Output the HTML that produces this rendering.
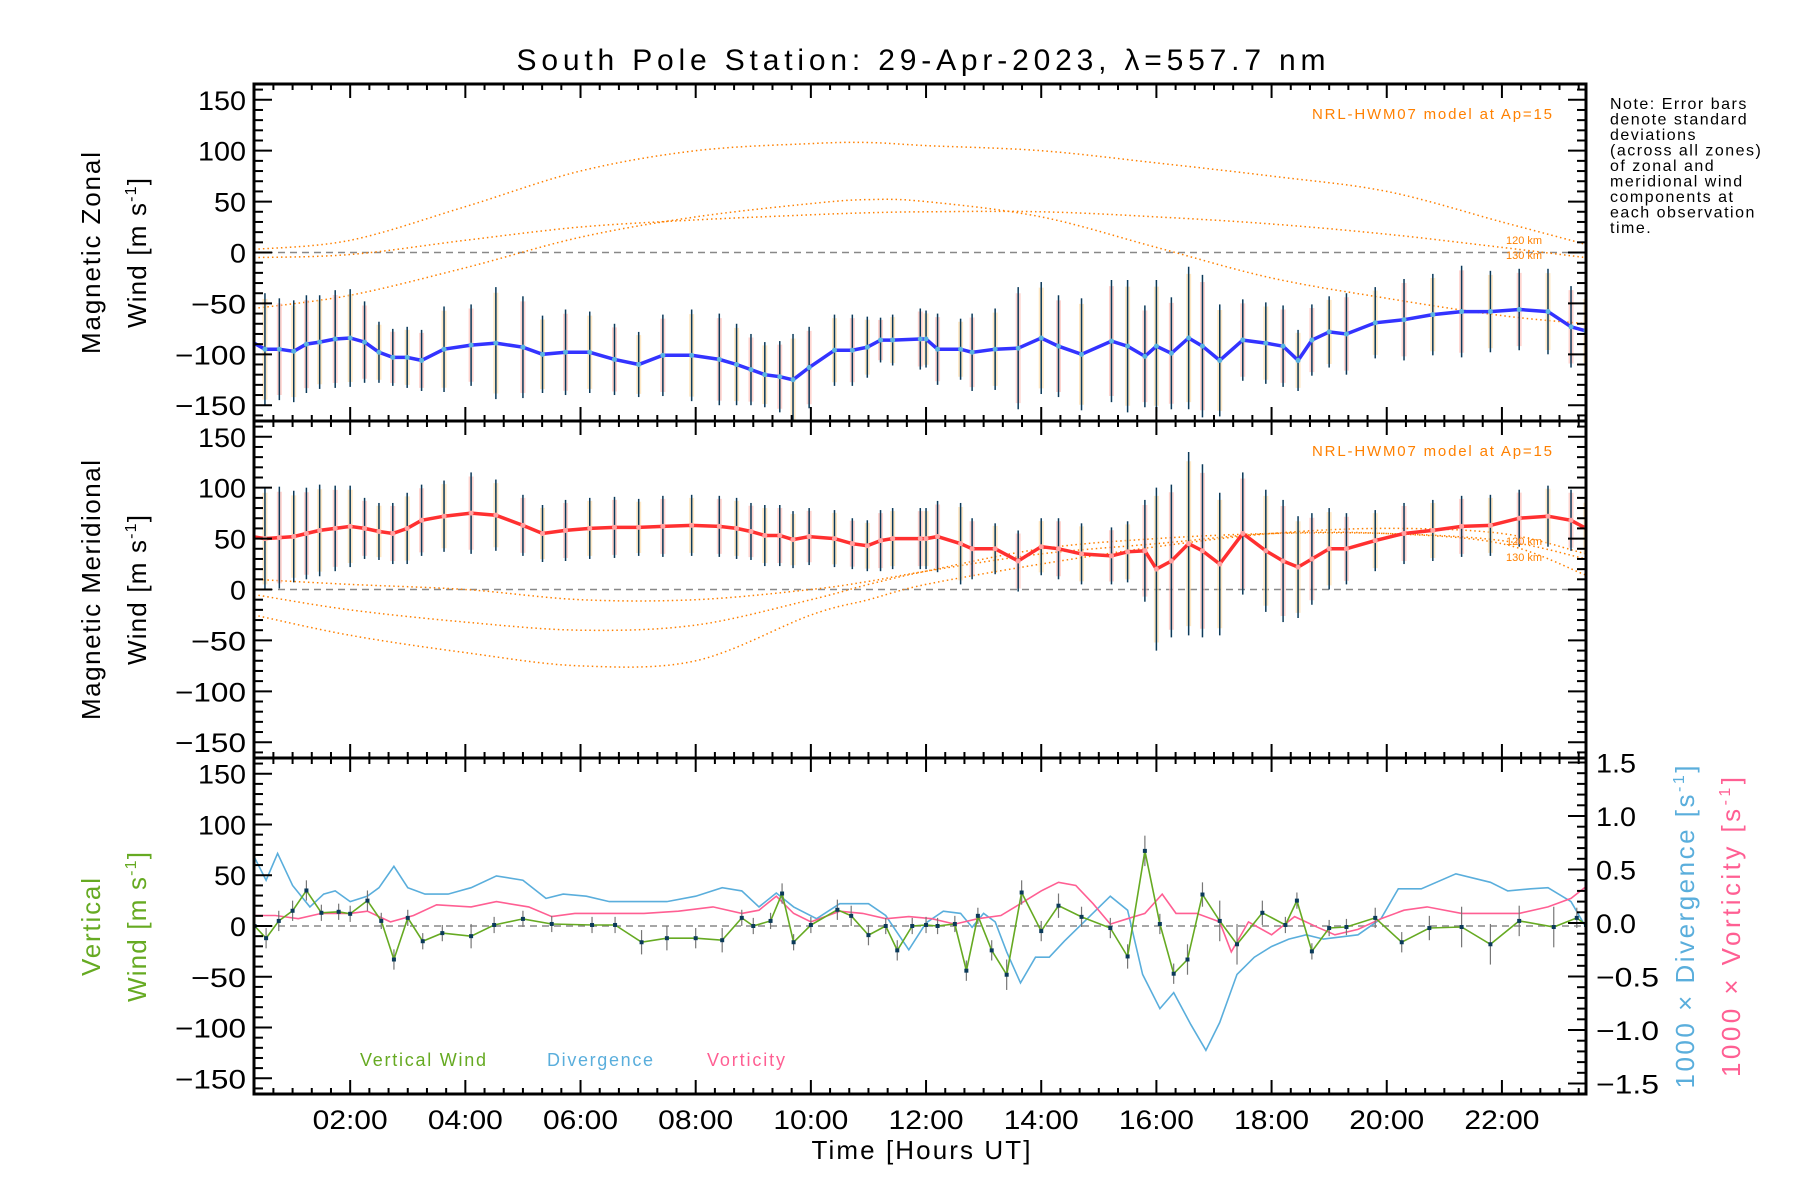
<!DOCTYPE html>
<html><head><meta charset="utf-8"><style>
html,body{margin:0;padding:0;background:#fff;}
svg{display:block;font-family:"Liberation Sans",sans-serif;}
</style></head><body>
<svg id="chart" width="1800" height="1200" viewBox="0 0 1800 1200" xmlns="http://www.w3.org/2000/svg">
<text x="921" y="70" font-size="30" text-anchor="middle" textLength="809" lengthAdjust="spacing">South Pole Station: 29-Apr-2023, λ=557.7 nm</text>
<g id="g1"></g>
<g id="g2"></g>
<g id="g3"></g>
<g id="axes"></g>
<text transform="translate(100,253) rotate(-90)" font-size="26" text-anchor="middle" textLength="202" lengthAdjust="spacing">Magnetic Zonal</text>
<text transform="translate(146,253) rotate(-90)" font-size="26" text-anchor="middle" textLength="150" lengthAdjust="spacing">Wind [m s<tspan font-size="16" dy="-10">-1</tspan><tspan dy="10">]</tspan></text>
<text transform="translate(100,590) rotate(-90)" font-size="26" text-anchor="middle" textLength="260" lengthAdjust="spacing">Magnetic Meridional</text>
<text transform="translate(146,590) rotate(-90)" font-size="26" text-anchor="middle" textLength="150" lengthAdjust="spacing">Wind [m s<tspan font-size="16" dy="-10">-1</tspan><tspan dy="10">]</tspan></text>
<text transform="translate(100,927) rotate(-90)" font-size="26" fill="#66aa22" text-anchor="middle" textLength="98" lengthAdjust="spacing">Vertical</text>
<text transform="translate(146,927) rotate(-90)" font-size="26" fill="#66aa22" text-anchor="middle" textLength="150" lengthAdjust="spacing">Wind [m s<tspan font-size="16" dy="-10">-1</tspan><tspan dy="10">]</tspan></text>
<text transform="translate(1694,927) rotate(-90)" font-size="26" fill="#5aaedc" text-anchor="middle" textLength="323" lengthAdjust="spacing">1000 × Divergence [s<tspan font-size="16" dy="-10">-1</tspan><tspan dy="10">]</tspan></text>
<text transform="translate(1740,927) rotate(-90)" font-size="26" fill="#ff5f93" text-anchor="middle" textLength="300" lengthAdjust="spacing">1000 × Vorticity [s<tspan font-size="16" dy="-10">-1</tspan><tspan dy="10">]</tspan></text>
<text x="921" y="1159" font-size="26" text-anchor="middle" textLength="219" lengthAdjust="spacing">Time [Hours UT]</text>
<text x="1552" y="119" font-size="15" fill="#ff8000" text-anchor="end" textLength="240" lengthAdjust="spacing">NRL-HWM07 model at Ap=15</text>
<text x="1552" y="456" font-size="15" fill="#ff8000" text-anchor="end" textLength="240" lengthAdjust="spacing">NRL-HWM07 model at Ap=15</text>
<text x="1506" y="244" font-size="11" fill="#ff8000">120 km</text>
<text x="1506" y="259" font-size="11" fill="#ff8000">130 km</text>
<text x="1506" y="545" font-size="11" fill="#ff8000">120 km</text>
<text x="1506" y="561" font-size="11" fill="#ff8000">130 km</text>
<text font-size="16" letter-spacing="1.5" x="1610">
<tspan x="1610" y="109">Note: Error bars</tspan><tspan x="1610" y="124.5">denote standard</tspan><tspan x="1610" y="140">deviations</tspan><tspan x="1610" y="155.5">(across all zones)</tspan><tspan x="1610" y="171">of zonal and</tspan><tspan x="1610" y="186.5">meridional wind</tspan><tspan x="1610" y="202">components at</tspan><tspan x="1610" y="217.5">each observation</tspan><tspan x="1610" y="233">time.</tspan></text>
<text x="360" y="1066" font-size="18" fill="#66aa22" textLength="126" lengthAdjust="spacing">Vertical Wind</text>
<text x="547" y="1066" font-size="18" fill="#5aaedc" textLength="106" lengthAdjust="spacing">Divergence</text>
<text x="707" y="1066" font-size="18" fill="#ff5f93" textLength="78" lengthAdjust="spacing">Vorticity</text>
</svg>
<script>
const obsTimes=[0.30,0.52,0.77,1.02,1.24,1.47,1.74,2.0,2.25,2.5,2.74,2.99,3.24,3.63,4.10,4.53,5.0,5.34,5.74,6.16,6.59,7.01,7.43,7.93,8.41,8.71,8.96,9.2,9.46,9.69,9.97,10.41,10.72,10.98,11.21,11.42,11.9,12.0,12.2,12.6,12.8,13.2,13.6,14.0,14.3,14.7,15.22,15.5,15.8,16.0,16.26,16.56,16.8,17.1,17.5,17.9,18.2,18.46,18.7,19.0,19.3,19.8,20.3,20.8,21.3,21.8,22.3,22.8,23.2,23.46];
const zonal=[-88,-95,-95,-97,-90,-88,-85,-84,-88,-98,-103,-103,-106,-95,-91,-89,-93,-100,-98,-98,-105,-110,-101,-101,-105,-110,-115,-120,-122,-125,-113,-96,-96,-93,-86,-86,-85,-85,-95,-95,-98,-95,-94,-84,-92,-100,-87,-92,-102,-92,-99,-84,-92,-106,-86,-89,-92,-106,-86,-78,-80,-69,-66,-61,-58,-58,-56,-58,-73,-77];
const zonalErr=[60,55,50,50,48,46,48,48,40,30,28,30,30,42,40,55,50,38,42,40,35,32,40,45,45,40,35,32,35,45,40,35,35,30,22,25,30,28,35,30,38,40,60,55,50,55,60,65,50,65,55,70,70,55,40,40,40,30,35,35,40,35,40,40,45,40,40,42,40,35];
const meridional=[52,50,51,52,55,58,60,62,60,57,55,60,68,72,75,73,63,55,58,60,61,61,62,63,62,60,57,53,53,49,52,50,45,43,48,50,50,50,52,45,40,40,28,42,40,35,33,37,38,20,28,45,38,25,55,38,28,22,30,40,40,48,55,58,62,63,70,72,68,60];
const meridionalErr=[55,50,50,45,45,45,42,40,30,28,30,35,35,35,40,35,30,28,30,30,30,28,30,30,30,30,28,30,30,28,28,28,25,25,30,30,30,30,35,40,30,25,30,28,30,30,28,30,50,80,75,90,85,70,60,60,60,50,45,40,35,30,30,30,30,30,28,30,30,28];
const modelTimes=[0.33,2,4,6,8,10,11,12,14,16,18,20,22,23.46];
const zonalModelA=[3,12,45,80,100,107,108,105,100,88,75,60,30,8];
const zonalModelB=[-5,-2,12,25,32,37,39,40,40,35,28,18,5,-5];
const zonalModelC=[-55,-42,-15,15,35,48,52,50,35,5,-25,-45,-62,-70];
const merModelD=[-5,-20,-32,-40,-35,-10,5,18,40,50,55,55,48,30];
const merModelE=[-25,-45,-62,-75,-70,-25,-10,5,25,42,55,60,55,35];
const merModelF=[10,5,0,-10,-10,0,8,18,35,45,55,55,45,14];
const vertTimes=[0.34,0.54,0.76,1.0,1.24,1.5,1.8,2.0,2.3,2.54,2.76,3.0,3.26,3.6,4.1,4.5,5.0,5.5,6.2,6.6,7.06,7.5,8.0,8.46,8.8,9.0,9.3,9.5,9.7,10.0,10.46,10.7,11.0,11.3,11.5,11.76,12.0,12.2,12.5,12.7,12.9,13.14,13.4,13.66,14.0,14.3,14.7,15.2,15.5,15.8,16.06,16.3,16.54,16.8,17.1,17.4,17.84,18.24,18.44,18.7,19.0,19.3,19.8,20.26,20.74,21.3,21.8,22.3,22.9,23.3,23.46];
const vertWind=[0,-12,5,15,35,13,14,12,25,5,-33,8,-15,-7,-10,1,7,2,1,1,-16,-12,-12,-14,8,0,5,32,-16,1,16,10,-9,0,-24,0,1,0,2,-44,10,-24,-48,33,-5,20,9,-2,-30,74,2,-47,-33,31,5,-18,13,1,25,-25,-2,-1,8,-16,-2,-1,-18,5,-1,8,1];
const vertErr=[12,10,10,10,10,8,8,8,10,8,10,8,8,8,12,8,8,8,8,8,12,12,10,12,8,8,8,10,8,8,10,10,10,8,10,8,8,8,8,10,8,10,15,12,10,12,10,10,12,15,10,10,15,12,20,20,12,8,8,8,8,8,10,10,12,20,20,15,20,10,8];
const divTimes=[0.34,0.54,0.74,1.0,1.3,1.54,1.74,2.0,2.3,2.5,2.76,3.0,3.3,3.7,4.1,4.54,5.0,5.4,5.7,6.1,6.5,7.1,7.5,8.0,8.46,8.8,9.1,9.4,9.7,10.1,10.5,11.0,11.3,11.7,12.0,12.3,12.6,12.8,13.0,13.2,13.4,13.64,13.9,14.14,14.4,14.8,15.2,15.5,15.76,16.06,16.3,16.6,16.86,17.1,17.4,17.7,18.0,18.3,18.6,18.9,19.2,19.5,19.9,20.2,20.6,21.2,21.8,22.1,22.5,22.8,23.2,23.46];
const divergence=[0.61,0.4,0.65,0.35,0.15,0.27,0.3,0.2,0.25,0.33,0.53,0.33,0.27,0.27,0.33,0.44,0.4,0.23,0.27,0.25,0.2,0.2,0.2,0.25,0.33,0.3,0.15,0.28,0.15,0.04,0.18,0.18,0.07,-0.25,0,0.11,0.09,-0.04,0.09,0.01,-0.27,-0.56,-0.32,-0.32,-0.17,0.04,0.25,0.12,-0.48,-0.8,-0.65,-0.95,-1.19,-0.93,-0.48,-0.32,-0.22,-0.15,-0.11,-0.15,-0.13,-0.11,0.04,0.32,0.32,0.46,0.38,0.3,0.32,0.33,0.2,-0.04];
const vortTimes=[0.34,0.7,1.1,1.5,2.0,2.3,2.7,3.1,3.5,4.1,4.54,5.1,5.5,5.9,6.5,7.1,7.7,8.3,8.8,9.1,9.4,9.7,10.0,10.5,10.9,11.3,11.7,12.1,12.5,12.9,13.3,13.7,14.0,14.3,14.6,14.9,15.2,15.5,15.8,16.1,16.34,16.7,17.1,17.3,17.6,18.0,18.4,18.8,19.1,19.5,19.9,20.3,20.7,21.3,21.8,22.3,22.8,23.2,23.46];
const vorticity=[0.07,0.07,0.04,0.09,0.09,0.11,0.01,0.07,0.17,0.15,0.2,0.15,0.06,0.09,0.09,0.09,0.11,0.15,0.09,0.12,0.25,0.09,0.01,0.11,0.09,0.04,0.06,0.04,-0.01,0.04,0.07,0.2,0.3,0.38,0.35,0.18,-0.01,0.04,0.09,0.27,0.09,0.09,0.01,-0.27,0.01,-0.11,0.06,-0.04,-0.11,-0.06,0.04,0.12,0.15,0.09,0.09,0.09,0.15,0.23,0.34];
const xTickHours=[2,4,6,8,10,12,14,16,18,20,22];
const xTickLabels=["02:00","04:00","06:00","08:00","10:00","12:00","14:00","16:00","18:00","20:00","22:00"];
const yTickValues=[-150,-100,-50,0,50,100,150];
const rightTickValues=[-1.5,-1.0,-0.5,0.0,0.5,1.0,1.5];

const NS="http://www.w3.org/2000/svg";
const L=254,R=1586,X0=0.33,X1=23.46;
const panels=[{top:84,bot:421},{top:421,bot:758},{top:758,bot:1094}];
const YR=165.5, RR=1.57;
function xs(h){return L+(h-X0)/(X1-X0)*(R-L);}
function ys(p,v){const P=panels[p];const c=(P.top+P.bot)/2;return c-v/YR*(P.bot-P.top)/2;}
function yr(v){const P=panels[2];const c=(P.top+P.bot)/2-3;return c-v/RR*(P.bot-P.top)/2;}
function mk(parent,tag,attrs){const e=document.createElementNS(NS,tag);for(const k in attrs)e.setAttribute(k,attrs[k]);parent.appendChild(e);return e;}
function pathD(ts,vs,fy){return ts.map((t,i)=>(i?'L':'M')+xs(t).toFixed(1)+' '+fy(vs[i]).toFixed(1)).join(' ');}
function smoothD(ts,vs,fy){const p=ts.map((t,i)=>[xs(t),fy(vs[i])]);let d='M'+p[0][0].toFixed(1)+' '+p[0][1].toFixed(1);
for(let i=0;i<p.length-1;i++){const p0=p[Math.max(0,i-1)],p1=p[i],p2=p[i+1],p3=p[Math.min(p.length-1,i+2)];
const c1=[p1[0]+(p2[0]-p0[0])/6,p1[1]+(p2[1]-p0[1])/6],c2=[p2[0]-(p3[0]-p1[0])/6,p2[1]-(p3[1]-p1[1])/6];
d+=' C'+c1[0].toFixed(1)+' '+c1[1].toFixed(1)+' '+c2[0].toFixed(1)+' '+c2[1].toFixed(1)+' '+p2[0].toFixed(1)+' '+p2[1].toFixed(1);}return d;}
function clip(p){return document.getElementById('g'+(p+1));}
const defs=mk(document.getElementById('chart'),'defs',{});
panels.forEach((P,i)=>{const cp=mk(defs,'clipPath',{id:'cp'+i});mk(cp,'rect',{x:L,y:P.top,width:R-L,height:P.bot-P.top});});
[0,1,2].forEach(i=>document.getElementById('g'+(i+1)).setAttribute('clip-path','url(#cp'+i+')'));

[0,1,2].forEach(p=>{const z=mk(clip(p),'line',{x1:L,x2:R,y1:ys(p,0),y2:ys(p,0),stroke:'#888',"stroke-width":1.5,"stroke-dasharray":"7,5"});

});

function model(p,vals,name){const e=mk(clip(p),'path',{d:smoothD(modelTimes,vals,v=>ys(p,v)),fill:'none',stroke:'#ff8000',"stroke-width":1.5,"stroke-dasharray":"1.5,3"});

}
model(0,zonalModelA,'zonal-model-curve-a');model(0,zonalModelB,'zonal-model-curve-b');model(0,zonalModelC,'zonal-model-curve-c');
model(1,merModelD,'meridional-model-curve-d');model(1,merModelE,'meridional-model-curve-e');model(1,merModelF,'meridional-model-curve-f');

function errBars(p,vals,errs,name){obsTimes.forEach((t,i)=>{const x=xs(t);
const h=mk(clip(p),'line',{x1:x,x2:x,y1:ys(p,vals[i]+errs[i]*0.9),y2:ys(p,vals[i]-errs[i]*0.9),stroke:(i%2?'#ffd9a0':'#ffb8b0'),"stroke-width":5,opacity:0.6});


const b=mk(clip(p),'line',{x1:x,x2:x,y1:ys(p,vals[i]+errs[i]),y2:ys(p,vals[i]-errs[i]),stroke:'#0b3a5a',"stroke-width":1.5});

});}
errBars(0,zonal,zonalErr,'zonal-error-bar');errBars(1,meridional,meridionalErr,'meridional-error-bar');
const zl=mk(clip(0),'path',{d:pathD(obsTimes,zonal,v=>ys(0,v)),fill:'none',stroke:'#3333ff',"stroke-width":3.5});


const ml=mk(clip(1),'path',{d:pathD(obsTimes,meridional,v=>ys(1,v)),fill:'none',stroke:'#ff3030',"stroke-width":3.5});


obsTimes.forEach((t,i)=>{const c=mk(clip(0),'circle',{cx:xs(t),cy:ys(0,zonal[i]),r:2.5,fill:'#5ab4e0'});


const d=mk(clip(1),'circle',{cx:xs(t),cy:ys(1,meridional[i]),r:2.5,fill:'#ffa0a0'});

});

const dl=mk(clip(2),'path',{d:pathD(divTimes,divergence,yr),fill:'none',stroke:'#5aaedc',"stroke-width":1.6});


const vl=mk(clip(2),'path',{d:pathD(vortTimes,vorticity,yr),fill:'none',stroke:'#ff5f93',"stroke-width":1.6});


vertTimes.forEach((t,i)=>{const e=mk(clip(2),'line',{x1:xs(t),x2:xs(t),y1:ys(2,vertWind[i]+vertErr[i]),y2:ys(2,vertWind[i]-vertErr[i]),stroke:'#777',"stroke-width":1.2});

});
const gl=mk(clip(2),'path',{d:pathD(vertTimes,vertWind,v=>ys(2,v)),fill:'none',stroke:'#66aa22',"stroke-width":1.6});


vertTimes.forEach((t,i)=>{const r=mk(clip(2),'rect',{x:xs(t)-2,y:ys(2,vertWind[i])-2,width:4,height:4,fill:'#0b3a5a'});

});

function labelLen(s){let w=0;for(const ch of s){if(ch==='−')w+=23;else if(ch==='.')w+=8;else w+=16;}return w;}
const ax=document.getElementById('axes');
panels.forEach((P,p)=>{
const fr=mk(ax,'rect',{x:L,y:P.top,width:R-L,height:P.bot-P.top,fill:'none',stroke:'#000',"stroke-width":3});


for(let v=-160;v<=160;v+=10){const y=ys(p,v);if(y<P.top+1||y>P.bot-1)continue;const len=(v%50===0)?18:9;
mk(ax,'line',{x1:L,x2:L+len,y1:y,y2:y,stroke:'#000',"stroke-width":2});
if(p<2)mk(ax,'line',{x1:R,x2:R-len,y1:y,y2:y,stroke:'#000',"stroke-width":2});}
yTickValues.forEach(v=>{const s=(v<0?'−':'')+Math.abs(v);const t=mk(ax,'text',{x:L-8,y:ys(p,v)+10,"font-size":27,"text-anchor":"end",textLength:labelLen(s),lengthAdjust:"spacingAndGlyphs"});t.textContent=s;

});
for(let m=0;m<=24*3;m++){const h=m/3;if(h<X0||h>X1)continue;const x=xs(h);const major=(m%6===0);const len=major?14:6;
mk(ax,'line',{x1:x,x2:x,y1:P.top,y2:P.top+len,stroke:'#000',"stroke-width":2});
mk(ax,'line',{x1:x,x2:x,y1:P.bot,y2:P.bot-len,stroke:'#000',"stroke-width":2});}
});
for(let v=-1.5;v<=1.51;v+=0.1){const y=yr(v);const r=Math.round(v*10);const len=(r%5===0)?18:9;
mk(ax,'line',{x1:R,x2:R-len,y1:y,y2:y,stroke:'#000',"stroke-width":2});}
rightTickValues.forEach(v=>{const s=(v<0?'−':'')+Math.abs(v).toFixed(1);const t=mk(ax,'text',{x:R+10,y:yr(v)+10,"font-size":27,textLength:labelLen(s),lengthAdjust:"spacingAndGlyphs"});t.textContent=s;

});
xTickHours.forEach((h,i)=>{const t=mk(ax,'text',{x:xs(h),y:1129,"font-size":27,"text-anchor":"middle",textLength:75,lengthAdjust:"spacingAndGlyphs"});t.textContent=xTickLabels[i];

});
</script>
</body></html>
